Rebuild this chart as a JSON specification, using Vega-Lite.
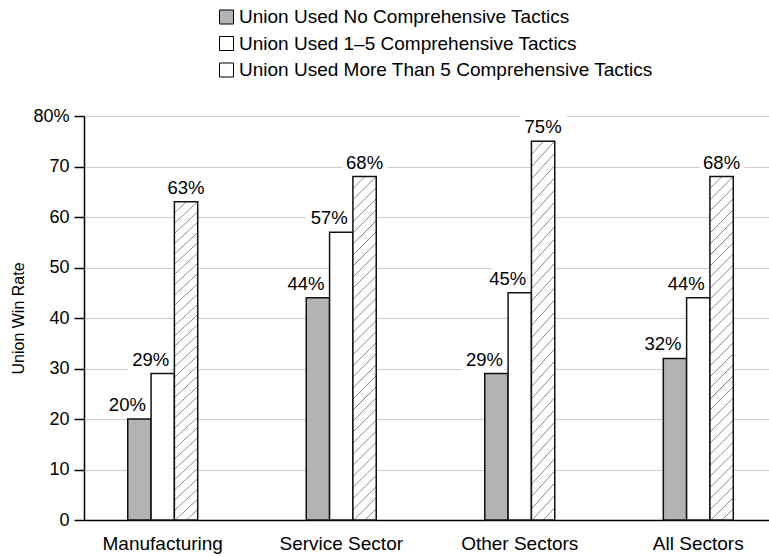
{
  "$schema": "https://vega.github.io/schema/vega-lite/v6.json",
  "width": 685,
  "height": 404,
  "autosize": {"type": "none"},
  "padding": {"left": 84, "top": 116, "right": 0, "bottom": 36},
  "background": "white",
  "config": {
    "font": "Liberation Sans",
    "view": {"stroke": null},
    "axis": {"labelColor": "#000", "titleColor": "#000", "labelFont": "Liberation Sans", "titleFont": "Liberation Sans"},
    "legend": {"labelFont": "Liberation Sans"}
  },
  "data": {
    "values": [
      {"sector": "Manufacturing", "series": "Union Used No Comprehensive Tactics", "value": 20, "label": "20%"},
      {"sector": "Manufacturing", "series": "Union Used 1–5 Comprehensive Tactics", "value": 29, "label": "29%"},
      {"sector": "Manufacturing", "series": "Union Used More Than 5 Comprehensive Tactics", "value": 63, "label": "63%"},
      {"sector": "Service Sector", "series": "Union Used No Comprehensive Tactics", "value": 44, "label": "44%"},
      {"sector": "Service Sector", "series": "Union Used 1–5 Comprehensive Tactics", "value": 57, "label": "57%"},
      {"sector": "Service Sector", "series": "Union Used More Than 5 Comprehensive Tactics", "value": 68, "label": "68%"},
      {"sector": "Other Sectors", "series": "Union Used No Comprehensive Tactics", "value": 29, "label": "29%"},
      {"sector": "Other Sectors", "series": "Union Used 1–5 Comprehensive Tactics", "value": 45, "label": "45%"},
      {"sector": "Other Sectors", "series": "Union Used More Than 5 Comprehensive Tactics", "value": 75, "label": "75%"},
      {"sector": "All Sectors", "series": "Union Used No Comprehensive Tactics", "value": 32, "label": "32%"},
      {"sector": "All Sectors", "series": "Union Used 1–5 Comprehensive Tactics", "value": 44, "label": "44%"},
      {"sector": "All Sectors", "series": "Union Used More Than 5 Comprehensive Tactics", "value": 68, "label": "68%"}
    ]
  },
  "encoding": {
    "x": {
      "field": "sector", "type": "nominal",
      "sort": ["Manufacturing", "Service Sector", "Other Sectors", "All Sectors"],
      "scale": {"range": [0, 693], "paddingInner": 0.608, "paddingOuter": 0.245},
      "axis": {"title": null, "labelAngle": 0, "labelFontSize": 19, "labelPadding": 14, "ticks": false, "domainColor": "#000", "domainWidth": 1.5, "grid": false}
    },
    "xOffset": {
      "field": "series", "type": "nominal",
      "sort": ["Union Used No Comprehensive Tactics", "Union Used 1–5 Comprehensive Tactics", "Union Used More Than 5 Comprehensive Tactics"],
      "scale": {"paddingInner": 0, "paddingOuter": 0}
    },
    "y": {
      "field": "value", "type": "quantitative",
      "scale": {"domain": [0, 80], "nice": false},
      "axis": {
        "title": "Union Win Rate", "titleFontSize": 16, "titleFontWeight": "normal", "titlePadding": 6,
        "values": [0, 10, 20, 30, 40, 50, 60, 70, 80],
        "labelExpr": "datum.value === 80 ? '80%' : datum.label",
        "labelFontSize": 18, "labelPadding": 5,
        "tickSize": 10, "tickColor": "#000", "tickWidth": 1.5,
        "domainColor": "#000", "domainWidth": 1.5,
        "gridColor": "#cccccc", "gridWidth": 1
      }
    }
  },
  "layer": [
    {
      "transform": [{"filter": "datum.series !== 'Union Used More Than 5 Comprehensive Tactics'"}],
      "mark": {"type": "text", "align": "right", "baseline": "alphabetic", "dx": 6.5, "dy": -8, "fontSize": 18.5, "fill": "white", "stroke": "white", "strokeWidth": 10},
      "encoding": {"text": {"field": "label"}}
    },
    {
      "transform": [{"filter": "datum.series === 'Union Used More Than 5 Comprehensive Tactics'"}],
      "mark": {"type": "text", "align": "center", "baseline": "alphabetic", "dy": -8, "fontSize": 18.5, "fill": "white", "stroke": "white", "strokeWidth": 10},
      "encoding": {"text": {"field": "label"}}
    },
    {
      "mark": {"type": "bar", "stroke": "#111", "strokeWidth": 1.5},
      "encoding": {
        "fill": {
          "condition": {
            "test": "datum.series === 'Union Used More Than 5 Comprehensive Tactics'",
            "value": {
              "gradient": "linear", "x1": 0, "y1": 0, "x2": 0.0722, "y2": 1.07,
              "stops": [
                {"offset": 0, "color": "#ffffff"}, {"offset": 0.0025, "color": "#808080"}, {"offset": 0.005, "color": "#ffffff"},
                {"offset": 0.03, "color": "#ffffff"}, {"offset": 0.0325, "color": "#808080"}, {"offset": 0.035, "color": "#ffffff"},
                {"offset": 0.06, "color": "#ffffff"}, {"offset": 0.0625, "color": "#808080"}, {"offset": 0.065, "color": "#ffffff"},
                {"offset": 0.09, "color": "#ffffff"}, {"offset": 0.0925, "color": "#808080"}, {"offset": 0.095, "color": "#ffffff"},
                {"offset": 0.12, "color": "#ffffff"}, {"offset": 0.1225, "color": "#808080"}, {"offset": 0.125, "color": "#ffffff"},
                {"offset": 0.15, "color": "#ffffff"}, {"offset": 0.1525, "color": "#808080"}, {"offset": 0.155, "color": "#ffffff"},
                {"offset": 0.18, "color": "#ffffff"}, {"offset": 0.1825, "color": "#808080"}, {"offset": 0.185, "color": "#ffffff"},
                {"offset": 0.21, "color": "#ffffff"}, {"offset": 0.2125, "color": "#808080"}, {"offset": 0.215, "color": "#ffffff"},
                {"offset": 0.24, "color": "#ffffff"}, {"offset": 0.2425, "color": "#808080"}, {"offset": 0.245, "color": "#ffffff"},
                {"offset": 0.27, "color": "#ffffff"}, {"offset": 0.2725, "color": "#808080"}, {"offset": 0.275, "color": "#ffffff"},
                {"offset": 0.30, "color": "#ffffff"}, {"offset": 0.3025, "color": "#808080"}, {"offset": 0.305, "color": "#ffffff"},
                {"offset": 0.33, "color": "#ffffff"}, {"offset": 0.3325, "color": "#808080"}, {"offset": 0.335, "color": "#ffffff"},
                {"offset": 0.36, "color": "#ffffff"}, {"offset": 0.3625, "color": "#808080"}, {"offset": 0.365, "color": "#ffffff"},
                {"offset": 0.39, "color": "#ffffff"}, {"offset": 0.3925, "color": "#808080"}, {"offset": 0.395, "color": "#ffffff"},
                {"offset": 0.42, "color": "#ffffff"}, {"offset": 0.4225, "color": "#808080"}, {"offset": 0.425, "color": "#ffffff"},
                {"offset": 0.45, "color": "#ffffff"}, {"offset": 0.4525, "color": "#808080"}, {"offset": 0.455, "color": "#ffffff"},
                {"offset": 0.48, "color": "#ffffff"}, {"offset": 0.4825, "color": "#808080"}, {"offset": 0.485, "color": "#ffffff"},
                {"offset": 0.51, "color": "#ffffff"}, {"offset": 0.5125, "color": "#808080"}, {"offset": 0.515, "color": "#ffffff"},
                {"offset": 0.54, "color": "#ffffff"}, {"offset": 0.5425, "color": "#808080"}, {"offset": 0.545, "color": "#ffffff"},
                {"offset": 0.57, "color": "#ffffff"}, {"offset": 0.5725, "color": "#808080"}, {"offset": 0.575, "color": "#ffffff"},
                {"offset": 0.60, "color": "#ffffff"}, {"offset": 0.6025, "color": "#808080"}, {"offset": 0.605, "color": "#ffffff"},
                {"offset": 0.63, "color": "#ffffff"}, {"offset": 0.6325, "color": "#808080"}, {"offset": 0.635, "color": "#ffffff"},
                {"offset": 0.66, "color": "#ffffff"}, {"offset": 0.6625, "color": "#808080"}, {"offset": 0.665, "color": "#ffffff"},
                {"offset": 0.69, "color": "#ffffff"}, {"offset": 0.6925, "color": "#808080"}, {"offset": 0.695, "color": "#ffffff"},
                {"offset": 0.72, "color": "#ffffff"}, {"offset": 0.7225, "color": "#808080"}, {"offset": 0.725, "color": "#ffffff"},
                {"offset": 0.75, "color": "#ffffff"}, {"offset": 0.7525, "color": "#808080"}, {"offset": 0.755, "color": "#ffffff"},
                {"offset": 0.78, "color": "#ffffff"}, {"offset": 0.7825, "color": "#808080"}, {"offset": 0.785, "color": "#ffffff"},
                {"offset": 0.81, "color": "#ffffff"}, {"offset": 0.8125, "color": "#808080"}, {"offset": 0.815, "color": "#ffffff"},
                {"offset": 0.84, "color": "#ffffff"}, {"offset": 0.8425, "color": "#808080"}, {"offset": 0.845, "color": "#ffffff"},
                {"offset": 0.87, "color": "#ffffff"}, {"offset": 0.8725, "color": "#808080"}, {"offset": 0.875, "color": "#ffffff"},
                {"offset": 0.90, "color": "#ffffff"}, {"offset": 0.9025, "color": "#808080"}, {"offset": 0.905, "color": "#ffffff"},
                {"offset": 0.93, "color": "#ffffff"}, {"offset": 0.9325, "color": "#808080"}, {"offset": 0.935, "color": "#ffffff"},
                {"offset": 0.96, "color": "#ffffff"}, {"offset": 0.9625, "color": "#808080"}, {"offset": 0.965, "color": "#ffffff"},
                {"offset": 0.99, "color": "#ffffff"}, {"offset": 0.9925, "color": "#808080"}, {"offset": 0.995, "color": "#ffffff"},
                {"offset": 1, "color": "#ffffff"}
              ]
            }
          },
          "field": "series", "type": "nominal",
          "sort": ["Union Used No Comprehensive Tactics", "Union Used 1–5 Comprehensive Tactics", "Union Used More Than 5 Comprehensive Tactics"],
          "scale": {
            "domain": ["Union Used No Comprehensive Tactics", "Union Used 1–5 Comprehensive Tactics", "Union Used More Than 5 Comprehensive Tactics"],
            "range": ["#b3b3b3", "#ffffff", "#ffffff"]
          },
          "legend": {
            "title": null, "orient": "none", "legendX": 133, "legendY": -108.5, "direction": "vertical",
            "symbolType": "square", "symbolSize": 196, "symbolStrokeColor": "#000", "symbolStrokeWidth": 1,
            "labelFontSize": 19, "labelColor": "#000", "labelOffset": 3, "rowPadding": 6.5, "labelLimit": 600,
            "encode": {
              "symbols": {
                "update": {
                  "fill": {"signal": "datum.value === 'Union Used More Than 5 Comprehensive Tactics' ? {gradient: 'linear', x1: 0, y1: 0, x2: 1, y2: 1, stops: [{offset: 0, color: '#ffffff'}, {offset: 0.28, color: '#ffffff'}, {offset: 0.33, color: '#808080'}, {offset: 0.38, color: '#ffffff'}, {offset: 0.62, color: '#ffffff'}, {offset: 0.67, color: '#808080'}, {offset: 0.72, color: '#ffffff'}, {offset: 1, color: '#ffffff'}]} : datum.value === 'Union Used No Comprehensive Tactics' ? '#b3b3b3' : '#ffffff'"},
                  "opacity": {"value": 1},
                  "stroke": {"value": "#000"}
                }
              }
            }
          }
        }
      }
    },
    {
      "transform": [{"filter": "datum.series !== 'Union Used More Than 5 Comprehensive Tactics'"}],
      "mark": {"type": "text", "align": "right", "baseline": "alphabetic", "dx": 6.5, "dy": -8, "fontSize": 18.5, "fill": "#000"},
      "encoding": {"text": {"field": "label"}}
    },
    {
      "transform": [{"filter": "datum.series === 'Union Used More Than 5 Comprehensive Tactics'"}],
      "mark": {"type": "text", "align": "center", "baseline": "alphabetic", "dy": -8, "fontSize": 18.5, "fill": "#000"},
      "encoding": {"text": {"field": "label"}}
    }
  ]
}
